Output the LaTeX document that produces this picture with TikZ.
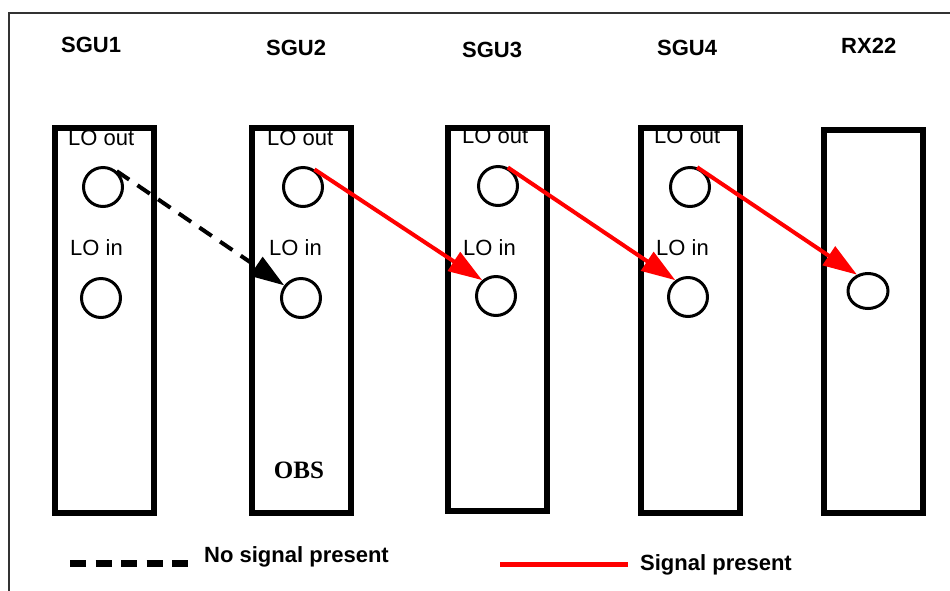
\documentclass[tikz,border=0pt]{standalone}
\usepackage{fontspec}
\setmainfont{Liberation Sans}
\newfontfamily\serifobs{Liberation Serif}
\usetikzlibrary{arrows.meta,shapes.geometric}
\begin{document}
\begin{tikzpicture}[x=1pt,y=-1pt,
 unitbox/.style={draw,line width=6pt,minimum width=99pt,minimum height=385pt,inner sep=0pt},
 port/.style={circle,draw,line width=3pt,minimum size=39pt,inner sep=0pt},
 title/.style={anchor=base west,font=\fontsize{22}{24}\selectfont\bfseries,inner sep=0pt},
 lbl/.style={anchor=base west,font=\fontsize{22}{24}\selectfont,inner sep=0pt},
 legtext/.style={anchor=base west,font=\fontsize{22}{24}\selectfont\bfseries,inner sep=0pt},
 sig/.style={red,line width=4pt,-{Triangle[length=34pt,width=22pt]}},
 nosig/.style={black,line width=4pt,dash pattern=on 15pt off 10pt,-{Triangle[length=34pt,width=22pt]}},
]
\useasboundingbox (0,0) rectangle (950,590);
\clip (0,0) rectangle (950,590);
\draw[line width=1.5pt,black!80] (9,600) -- (9,13) -- (960,13);

% titles
\node[title] (t1) at (61,52) {SGU1};
\node[title] (t2) at (266,55) {SGU2};
\node[title] (t3) at (462,57) {SGU3};
\node[title] (t4) at (657,55) {SGU4};
\node[title] (t5) at (841,53) {RX22};

% labels
\node[lbl] (lo1) at (68,145) {LO out};
\node[lbl] (lo2) at (267,145) {LO out};
\node[lbl] (lo3) at (462,143) {LO out};
\node[lbl] (lo4) at (654,143) {LO out};
\node[lbl] (li1) at (70,255) {LO in};
\node[lbl] (li2) at (269,255) {LO in};
\node[lbl] (li3) at (463,255) {LO in};
\node[lbl] (li4) at (656,255) {LO in};

% boxes
\node[unitbox] (b1) at (104.5,320.5) {};
\node[unitbox] (b2) at (301.5,320.5) {};
\node[unitbox,minimum height=383pt] (b3) at (497.5,319.5) {};
\node[unitbox] (b4) at (690.5,320.5) {};
\node[unitbox,minimum height=383pt] (b5) at (873.5,321.5) {};

\node[anchor=base,font=\fontsize{25}{28}\selectfont\serifobs\bfseries,inner sep=0pt] (obs) at (299,478) {OBS};

% ports
\node[port] (o1) at (103,187) {};
\node[port] (i1) at (101,298) {};
\node[port] (o2) at (303,187) {};
\node[port] (i2) at (301,298) {};
\node[port] (o3) at (498,186) {};
\node[port] (i3) at (496,296) {};
\node[port] (o4) at (690,187) {};
\node[port] (i4) at (688,297) {};
\node[ellipse,draw,line width=3pt,minimum width=40pt,minimum height=35pt,inner sep=0pt] (rx) at (868,291) {};

% connectors
\draw[nosig] (o1.49) -- (i2.143);
\draw[sig] (o2.57) -- (i3.131);
\draw[sig] (o3.62) -- (i4.127);
\draw[sig] (o4.70) -- (rx.124);

% legend
\coordinate (l1a) at (70,563);
\coordinate (l1b) at (188,563);
\draw[line width=7pt,dash pattern=on 16pt off 9.5pt] (l1a) -- (l1b);
\node[legtext] (n1) at (204,562) {No signal present};
\coordinate (l2a) at (500,564);
\coordinate (l2b) at (628,564);
\draw[red,line width=5pt] (l2a) -- (l2b);
\node[legtext] (n2) at (640,570) {Signal present};
\end{tikzpicture}
\end{document}
